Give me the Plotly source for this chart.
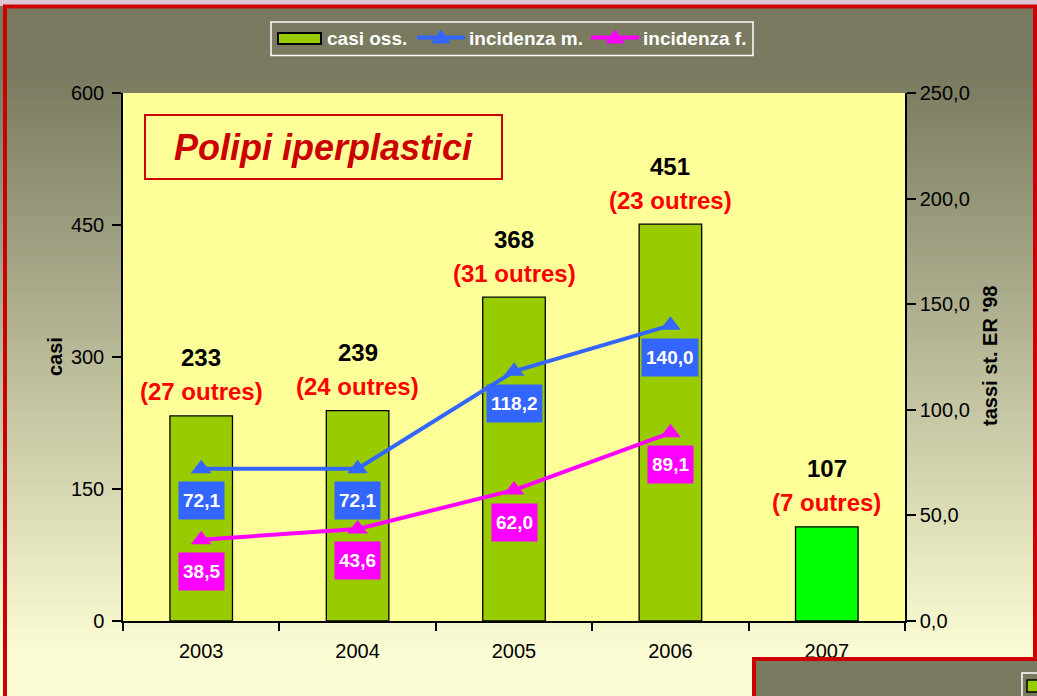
import plotly.graph_objects as go

# ---- data ----
years = ["2003", "2004", "2005", "2006", "2007"]
casi = [233, 239, 368, 451, 107]
outres = [27, 24, 31, 23, 7]
inc_years = ["2003", "2004", "2005", "2006"]
inc_m = [72.1, 72.1, 118.2, 140.0]
inc_f = [38.5, 43.6, 62.0, 89.1]
left_ticks = [0, 150, 300, 450, 600]
right_ticks = [0, 50, 100, 150, 200, 250]
legend_names = ["casi oss.", "incidenza m.", "incidenza f."]

bar_colors = ["#99CC00", "#99CC00", "#99CC00", "#99CC00", "#00FF00"]
BLUE = "#3366FF"
MAG = "#FF00FF"
GREEN = "#99CC00"
OLIVE = "#797A5F"
FONT = "Arial, Liberation Sans, sans-serif"

W, H = 1037, 696
L, R, T, B = 123, 905, 93, 621  # plot area in px


def px(xp):
    return (xp - L) / (R - L)


def py(yp):
    return (B - yp) / (B - T)


fig = go.Figure()
fig.add_trace(go.Bar(
    x=years, y=casi, name=legend_names[0], yaxis="y",
    marker=dict(color=bar_colors, line=dict(color="black", width=1.3)),
))
fig.add_trace(go.Scatter(
    x=inc_years, y=inc_m, name=legend_names[1], yaxis="y2",
    mode="lines+markers", line=dict(color=BLUE, width=4),
    marker=dict(symbol="triangle-up", size=18, color=BLUE),
))
fig.add_trace(go.Scatter(
    x=inc_years, y=inc_f, name=legend_names[2], yaxis="y2",
    mode="lines+markers", line=dict(color=MAG, width=4),
    marker=dict(symbol="triangle-up", size=18, color=MAG),
))

shapes = []
# top lavender strip
shapes.append(dict(type="rect", xref="paper", yref="paper", layer="below",
                   x0=px(-10), x1=px(W + 10), y0=py(-10), y1=py(6),
                   fillcolor="#DCC6D4", line=dict(width=0)))
# gradient background strips
c0 = (121, 122, 95)
c1 = (252, 252, 212)
y_start, y_end, step = 70, 650, 6
yy = y_start
while yy < y_end:
    t = (yy - y_start) / (y_end - y_start)
    col = tuple(round(c0[i] + (c1[i] - c0[i]) * t) for i in range(3))
    shapes.append(dict(type="rect", xref="paper", yref="paper", layer="below",
                       x0=px(0), x1=px(W), y0=py(yy + step + 0.5), y1=py(yy),
                       fillcolor="rgb(%d,%d,%d)" % col, line=dict(width=0)))
    yy += step
shapes.append(dict(type="rect", xref="paper", yref="paper", layer="below",
                   x0=px(0), x1=px(W), y0=py(H + 10), y1=py(y_end),
                   fillcolor="rgb(%d,%d,%d)" % c1, line=dict(width=0)))
# plot area
shapes.append(dict(type="rect", xref="paper", yref="paper", layer="below",
                   x0=0, x1=1, y0=0, y1=1,
                   fillcolor="#FFFF99", line=dict(width=0)))
# red frame
shapes.append(dict(type="rect", xref="paper", yref="paper", layer="above",
                   x0=px(5), x1=px(1035), y0=py(H + 20), y1=py(6.5),
                   fillcolor="rgba(0,0,0,0)", line=dict(color="#CC0000", width=4)))
# overlapping box bottom-right
shapes.append(dict(type="rect", xref="paper", yref="paper", layer="above",
                   x0=px(754), x1=px(W + 20), y0=py(H + 20), y1=py(659),
                   fillcolor=OLIVE, line=dict(color="#CC0000", width=4)))
shapes.append(dict(type="rect", xref="paper", yref="paper", layer="above",
                   x0=px(1022), x1=px(W + 20), y0=py(H + 20), y1=py(673),
                   fillcolor=OLIVE, line=dict(color="white", width=1.5)))
shapes.append(dict(type="rect", xref="paper", yref="paper", layer="above",
                   x0=px(1027), x1=px(1040), y0=py(692), y1=py(680),
                   fillcolor=GREEN, line=dict(color="black", width=1.5)))

# ---- custom legend (box, symbols) ----
shapes.append(dict(type="rect", xref="paper", yref="paper", layer="above",
                   x0=px(271), x1=px(753), y0=py(55.5), y1=py(22),
                   fillcolor=OLIVE, line=dict(color="white", width=1.5)))
shapes.append(dict(type="rect", xref="paper", yref="paper", layer="above",
                   x0=px(278), x1=px(321), y0=py(44), y1=py(33),
                   fillcolor=GREEN, line=dict(color="black", width=2)))
for (x0, x1, col) in ((417, 465, BLUE), (591, 639, MAG)):
    shapes.append(dict(type="line", xref="paper", yref="paper", layer="above",
                       x0=px(x0), x1=px(x1), y0=py(37.5), y1=py(37.5),
                       line=dict(color=col, width=4)))
    xc = (x0 + x1) / 2
    path = "M %f,%f L %f,%f L %f,%f Z" % (px(xc - 9), py(43), px(xc + 9), py(43),
                                          px(xc), py(30))
    shapes.append(dict(type="path", xref="paper", yref="paper", layer="above",
                       path=path, fillcolor=col, line=dict(color=col, width=1)))

annotations = []
for name, xl in zip(legend_names, (325, 467, 641)):
    annotations.append(dict(xref="paper", yref="paper", x=px(xl), y=py(39),
                            xanchor="left", yanchor="middle",
                            text="<b>%s</b>" % name, showarrow=False,
                            font=dict(family=FONT, size=19, color="white")))

# title box
annotations.append(dict(
    xref="paper", yref="paper", x=px(323.5), y=py(147),
    text="<b><i>Polipi iperplastici</i></b>", showarrow=False,
    font=dict(family=FONT, size=36, color="#CC0000"),
    bgcolor="#FFFF99", bordercolor="#CC0000", borderwidth=2,
    width=355, height=62, borderpad=0, xanchor="center", yanchor="middle",
))
# bar labels
for i, (v, o) in enumerate(zip(casi, outres)):
    annotations.append(dict(x=i, y=v, xref="x", yref="y", yshift=58,
                            text="<b>%d</b>" % v, showarrow=False,
                            xanchor="center", yanchor="middle",
                            font=dict(family=FONT, size=24, color="black")))
    annotations.append(dict(x=i, y=v, xref="x", yref="y", yshift=24,
                            text="<b>(%d outres)</b>" % o, showarrow=False,
                            xanchor="center", yanchor="middle",
                            font=dict(family=FONT, size=24, color="#FF0000")))
# line value labels
for series, col in ((inc_m, BLUE), (inc_f, MAG)):
    for i, v in enumerate(series):
        annotations.append(dict(
            x=i, y=v, xref="x", yref="y2", yshift=-32,
            xanchor="center", yanchor="middle",
            text="<b>%s</b>" % ("%.1f" % v).replace(".", ","),
            showarrow=False, font=dict(family=FONT, size=19, color="white"),
            bgcolor=col, height=29, borderpad=4,
        ))
# axis titles
annotations.append(dict(xref="paper", yref="paper", x=px(55), y=py(357),
                        xanchor="center", yanchor="middle",
                        text="<b>casi</b>", textangle=-90, showarrow=False,
                        font=dict(family=FONT, size=20, color="black")))
annotations.append(dict(xref="paper", yref="paper", x=px(990), y=py(356),
                        xanchor="center", yanchor="middle",
                        text="<b>tassi st. ER '98</b>", textangle=-90, showarrow=False,
                        font=dict(family=FONT, size=20, color="black")))

fig.update_layout(
    width=W, height=H,
    margin=dict(l=L, r=W - R, t=T, b=H - B, pad=0),
    paper_bgcolor=OLIVE, plot_bgcolor="rgba(0,0,0,0)",
    separators=", ",
    bargap=0.6,
    showlegend=False,
    xaxis=dict(
        type="category", range=[-0.5, 4.5], tickson="boundaries",
        ticks="outside", ticklen=8, tickcolor="black", tickwidth=1.5,
        showline=True, linecolor="black", linewidth=1.5,
        showgrid=False, zeroline=False, ticklabelstandoff=11,
        tickfont=dict(family=FONT, size=20, color="black"),
    ),
    yaxis=dict(
        range=[0, 600], tickvals=left_ticks, ticks="outside", ticklen=9,
        tickcolor="black", tickwidth=1.5,
        showline=True, linecolor="black", linewidth=1.5,
        showgrid=False, zeroline=False, ticklabelstandoff=4,
        tickfont=dict(family=FONT, size=20, color="black"),
    ),
    yaxis2=dict(
        range=[0, 250], tickvals=right_ticks, tickformat=".1f", overlaying="y",
        side="right", ticks="outside", ticklen=9, tickcolor="black", tickwidth=1.5,
        showline=True, linecolor="black", linewidth=1.5,
        showgrid=False, zeroline=False,
        tickfont=dict(family=FONT, size=20, color="black"),
    ),
    shapes=shapes,
    annotations=annotations,
)

fig.write_html(
    "out.html",
    config={"displayModeBar": False},
    post_script="document.body.style.margin='0px';document.body.style.overflow='hidden';",
)
